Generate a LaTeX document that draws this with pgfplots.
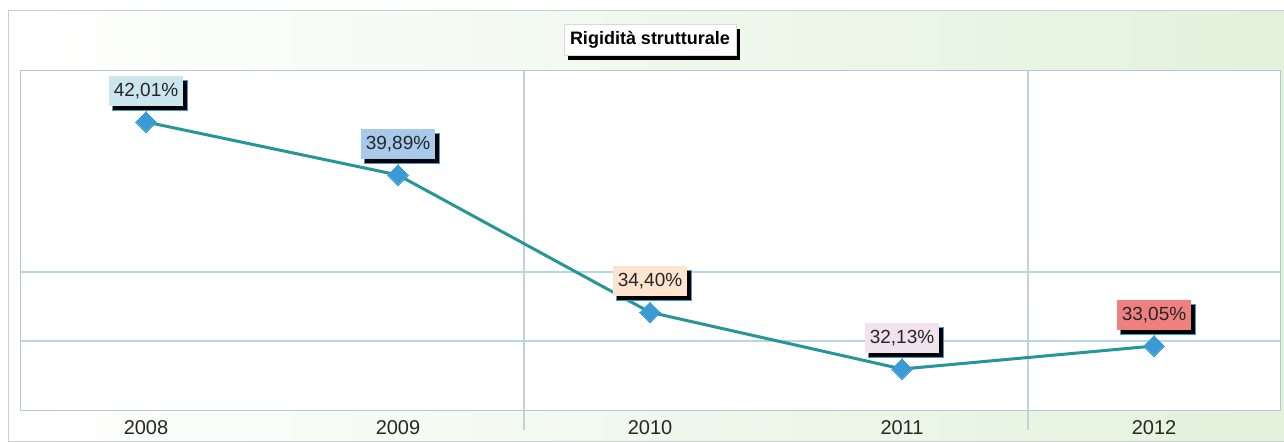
\documentclass[border=0pt]{standalone}
\usepackage{fontspec}
\setmainfont{Liberation Sans}
\usepackage{pgfplots}
\pgfplotsset{compat=1.18}
\usetikzlibrary{shadows}

\definecolor{linecol}{RGB}{38,150,150}
\definecolor{markcol}{RGB}{58,154,214}
\definecolor{gridcol}{RGB}{184,214,230}
\definecolor{vgridcol}{RGB}{196,208,218}
\definecolor{bordercol}{RGB}{180,200,214}
\definecolor{framecol}{RGB}{200,208,214}
\definecolor{bggreen}{RGB}{226,242,220}
\definecolor{laba}{RGB}{204,230,240}
\definecolor{labb}{RGB}{168,202,234}
\definecolor{labc}{RGB}{252,228,206}
\definecolor{labd}{RGB}{242,226,238}
\definecolor{labe}{RGB}{238,128,128}

\pgfplotstableread{
x y c
0 42.01 a
1 39.89 b
2 34.40 c
3 32.13 d
4 33.05 e
}\rigidita

\begin{document}
\begin{tikzpicture}
\path[use as bounding box] (-10pt,-15.5pt) rectangle (632pt,205pt);
\shade[left color=white, middle color=bggreen!35!white, right color=bggreen, draw=framecol] (-6pt,-15.5pt) rectangle (632pt,200pt);
\begin{axis}[
    scale only axis,
    width=630pt, height=170pt,
    xmin=-0.5, xmax=4.5,
    ymin=30.49, ymax=44.09,
    axis background/.style={fill=white},
    axis line style={draw=bordercol},
    xtick={0,...,4},
    xticklabels={2008,2009,2010,2011,2012},
    ytick={33.25,36},
    yticklabels={},
    ymajorgrids,
    major grid style={draw=gridcol, line width=0.8pt},
    major tick length=0pt,
    tick pos=left,
    extra x ticks={1.5,3.5},
    extra x tick labels={},
    extra x tick style={
        grid=major,
        major grid style={draw=vgridcol, line width=0.6pt},
        tick align=outside,
        major tick length=10pt,
        tick style={draw=vgridcol, line width=0.6pt},
    },
    tick label style={font=\fontsize{10}{11}\selectfont, text=black!85},
    xticklabel style={yshift=-1.5pt},
    clip=false,
]
\addplot[
    color=linecol, line width=1.5pt,
    mark=square*, mark size=3.6pt,
    mark options={fill=markcol, draw=markcol, rotate=45, line width=0pt},
    point meta=explicit symbolic,
    visualization depends on={y\as\yval},
    nodes near coords={\pgfmathprintnumber[assume math mode=true,fixed,fixed zerofill,precision=2,use comma]{\yval}\%},
    every node near coord/.append style={
        fill=lab\pgfplotspointmeta, draw=none, text=black!85,
        font=\fontsize{9.5}{10}\selectfont,
        inner xsep=2.5pt, inner ysep=0pt, outer sep=0pt,
        minimum height=15pt,
        anchor=south, yshift=8pt,
        drop shadow={shadow xshift=2pt, shadow yshift=-2pt, fill=black, opacity=1},
    },
] table[x=x, y=y, meta=c] {\rigidita};
\end{axis}
\node[fill=white, draw=black!15, inner xsep=3pt, inner ysep=0pt, minimum height=15.5pt,
      font=\bfseries\fontsize{9}{10}\selectfont,
      drop shadow={shadow xshift=2pt, shadow yshift=-2pt, fill=black, opacity=1}]
      at (315pt,185pt) {Rigidità strutturale};
\end{tikzpicture}
\end{document}
